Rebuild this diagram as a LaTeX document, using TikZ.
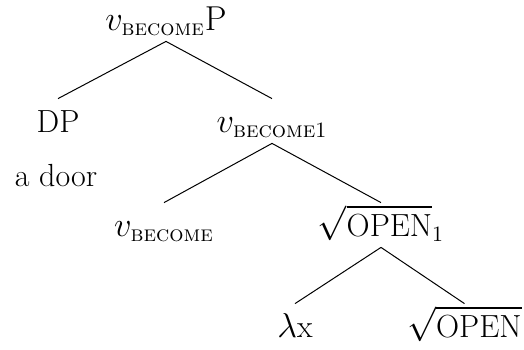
\documentclass[tikz,border=0pt]{standalone}
\usepackage{amsmath}
\begin{document}
\begin{tikzpicture}[x=0.5pt,y=-0.5pt,
  tnode/.style={anchor=base, inner xsep=0pt, inner ysep=0pt, text height=16.5pt, text depth=5.5pt, font=\fontsize{16}{19}\selectfont},
  branch/.style={draw=black, line width=0.5pt}]
\useasboundingbox (0,0) rectangle (524,349);
\newcommand{\bcm}{\text{\scshape become}}
\node[tnode] (root) at (166,30) {$v_{\bcm}\mathrm{P}$};
\node[tnode] (dp) at (58,132) {DP};
\node[tnode] (door) at (56,186) {a door};
\node[tnode] (vb1) at (272,132) {$v_{\bcm 1}$};
\node[tnode] (vb) at (164,236) {$v_{\bcm}$};
\node[tnode] (op1) at (381,236) {$\sqrt{\text{OPEN}}_1$};
\node[tnode] (lx) at (295,337) {$\lambda$x};
\node[tnode, anchor=base east] (op) at (522,337) {$\sqrt{\text{OPEN}}$};
\draw[branch] (root.south) -- (dp.north);
\draw[branch] (root.south) -- (vb1.north);
\draw[branch] (vb1.south) -- (vb.north);
\draw[branch] (vb1.south) -- (op1.north);
\draw[branch] (op1.south) -- (lx.north);
\draw[branch] (op1.south) -- (op.north);
\end{tikzpicture}
\end{document}
